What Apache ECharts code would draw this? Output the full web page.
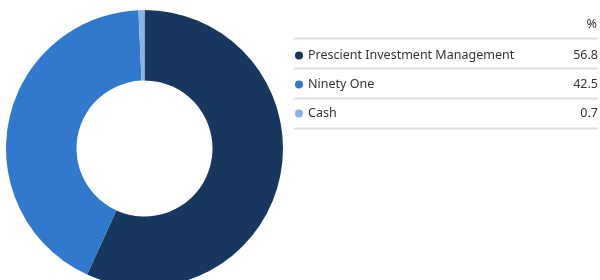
<!DOCTYPE html>
<html>
<head>
<meta charset="utf-8">
<script src="https://cdn.jsdelivr.net/npm/echarts@6/dist/echarts.min.js"></script>
<style>
  html, body { margin: 0; padding: 0; background: #fff; }
  #chart { width: 600px; height: 280px; }
</style>
</head>
<body>
<div id="chart"></div>
<script>
// 资产分布 环形图
var names = ['Prescient Investment Management', 'Ninety One', 'Cash'];
var values = [56.8, 42.5, 0.7];
var colors = ['#17375e', '#3179cc', '#8ab3e4'];
var header = '%';

var chart = echarts.init(document.getElementById('chart'));

var pieData = [];
for (var i = 0; i < names.length; i++) {
    pieData.push({ name: names[i], value: values[i] });
}

// 表格分隔线
var rowTop = 38.5, rowH = 30;
var graphics = [{
    type: 'text',
    right: 3,
    top: 18,
    style: { text: header, fill: '#333', font: '12.5px "Noto Sans"', textAlign: 'right' }
}];
for (var j = 0; j <= names.length; j++) {
    graphics.push({
        type: 'line',
        shape: { x1: 294, y1: rowTop + j * rowH, x2: 598, y2: rowTop + j * rowH },
        style: { stroke: '#dddddd', lineWidth: 2 },
        silent: true
    });
}

var option = {
    animation: false,
    color: colors,
    graphic: graphics,
    legend: {
        orient: 'vertical',
        left: 290,
        top: 44,
        icon: 'circle',
        itemWidth: 8,
        itemHeight: 8,
        itemGap: 16,
        selectedMode: false,
        data: names,
        formatter: function (name) {
            var v = values[names.indexOf(name)];
            return '{n|' + name + '}{v|' + v.toFixed(1) + '}';
        },
        textStyle: {
            color: '#333',
            fontFamily: 'Noto Sans',
            fontSize: 12.5,
            rich: {
                n: { width: 245, fontSize: 12.5, color: '#333', fontFamily: 'Noto Sans' },
                v: { width: 45, align: 'right', fontSize: 12.5, color: '#333', fontFamily: 'Noto Sans' }
            }
        }
    },
    series: [{
        type: 'pie',
        center: [144.5, 148.5],
        radius: [68, 138.5],
        startAngle: 90,
        clockwise: true,
        label: { show: false },
        labelLine: { show: false },
        emphasis: { disabled: true },
        data: pieData
    }]
};

chart.setOption(option);
</script>
</body>
</html>
